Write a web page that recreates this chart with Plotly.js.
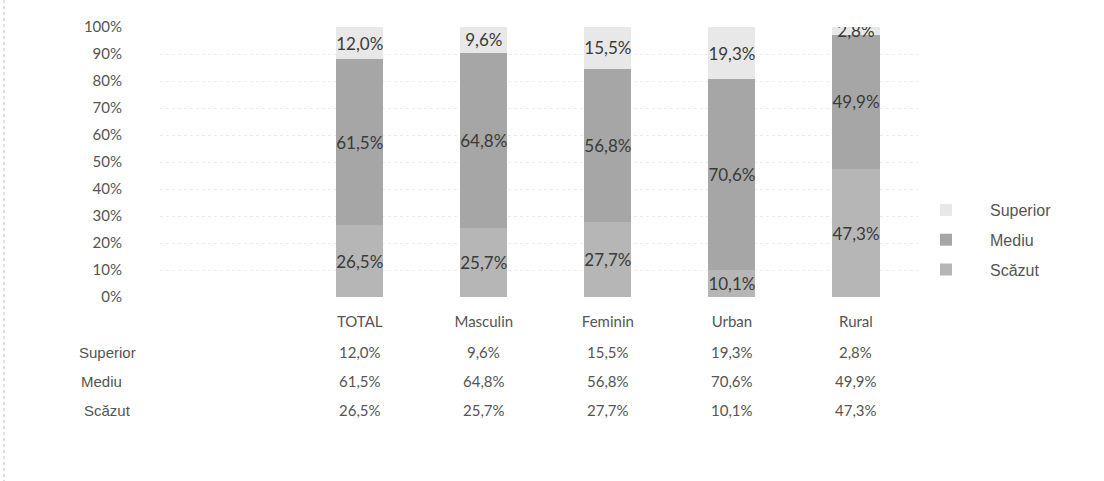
<!DOCTYPE html>
<html>
<head>
<meta charset="utf-8">
<script src="https://cdn.plot.ly/plotly-3.0.1.min.js"></script>
<style>html,body{margin:0;padding:0;background:#fff;}#chart{width:1104px;height:481px;}</style>
</head>
<body>
<div id="chart"></div>
<script>
const categories = ['TOTAL', 'Masculin', 'Feminin', 'Urban', 'Rural'];
const superior = [12.0, 9.6, 15.5, 19.3, 2.8];
const mediu = [61.5, 64.8, 56.8, 70.6, 49.9];
const scazut = [26.5, 25.7, 27.7, 10.1, 47.3];
const seriesNames = ['Superior', 'Mediu', 'Scăzut'];
const yTickVals = [0, 10, 20, 30, 40, 50, 60, 70, 80, 90, 100];
const yTickText = ['0%', '10%', '20%', '30%', '40%', '50%', '60%', '70%', '80%', '90%', '100%'];

const W = 1104, H = 481;
const mL = 160, mR = 186, mT = 27, mB = 184;
const pw = W - mL - mR, ph = H - mT - mB;
const px2x = p => (p - mL) / pw;
const py2y = p => (H - mB - p) / ph;

const numFont = 'Lato, "Open Sans", sans-serif';
const txtFont = '"Liberation Sans", Arial, sans-serif';
const fmt = v => v.toFixed(1).replace('.', ',') + '%';

function barTrace(name, vals, color, rank) {
  return {
    type: 'bar', name: name, x: categories, y: vals,
    marker: {color: color, line: {width: 0}},
    text: vals.map(fmt), textposition: 'inside', insidetextanchor: 'middle',
    constraintext: 'none', textangle: 0,
    textfont: {family: numFont, size: 17, color: '#3a3a3a'},
    legendgroup: name, legendrank: rank, hoverinfo: 'skip'
  };
}

const traces = [
  barTrace(seriesNames[2], scazut, '#b6b6b6', 3),
  barTrace(seriesNames[1], mediu, '#a6a6a6', 2),
  barTrace(seriesNames[0], superior, '#e8e8e8', 1)
];

const rows = [[seriesNames[0], superior, 352, 77], [seriesNames[1], mediu, 381, 79], [seriesNames[2], scazut, 410, 82]];
const annotations = [];
rows.forEach(r => {
  annotations.push({xref: 'paper', yref: 'paper', x: px2x(r[3]), y: py2y(r[2]), xanchor: 'left', yanchor: 'middle',
    text: r[0], showarrow: false, font: {family: txtFont, size: 15, color: '#555'}});
  r[1].forEach((v, i) => {
    annotations.push({xref: 'x', yref: 'paper', x: categories[i], y: py2y(r[2]), xanchor: 'center', yanchor: 'middle',
      text: fmt(v), showarrow: false, font: {family: numFont, size: 15, color: '#555'}});
  });
});

const layout = {
  width: W, height: H,
  margin: {l: mL, r: mR, t: mT, b: mB, pad: 0},
  paper_bgcolor: '#fff', plot_bgcolor: '#fff',
  barmode: 'stack', bargap: 0.62,
  separators: ', ',
  showlegend: true,
  legend: {
    x: px2x(902), y: py2y(193), xref: 'paper', yref: 'paper', xanchor: 'left', yanchor: 'top',
    traceorder: 'grouped', tracegroupgap: 6, itemwidth: 78,
    font: {family: txtFont, size: 16, color: '#555'}, bgcolor: 'rgba(0,0,0,0)'
  },
  xaxis: {
    type: 'category', range: [-1.61, 4.5], showgrid: false, zeroline: false, showline: false,
    ticks: '', ticklabelstandoff: 14,
    tickfont: {family: numFont, size: 15, color: '#555'}, fixedrange: true
  },
  yaxis: {
    range: [0, 100], tickvals: yTickVals, ticktext: yTickText,
    showgrid: true, gridcolor: '#ececec', griddash: 'dot', gridwidth: 1,
    zeroline: false, showline: false, ticks: '', ticklabelstandoff: 37,
    tickfont: {family: numFont, size: 15, color: '#555'}, fixedrange: true
  },
  shapes: [
    {type: 'line', xref: 'paper', yref: 'paper', x0: px2x(4), x1: px2x(4), y0: py2y(0), y1: py2y(H),
     line: {color: '#bdbdbd', width: 1, dash: 'dot'}}
  ],
  annotations: annotations
};

Plotly.newPlot('chart', traces, layout, {displayModeBar: false, staticPlot: true});
</script>
</body>
</html>
